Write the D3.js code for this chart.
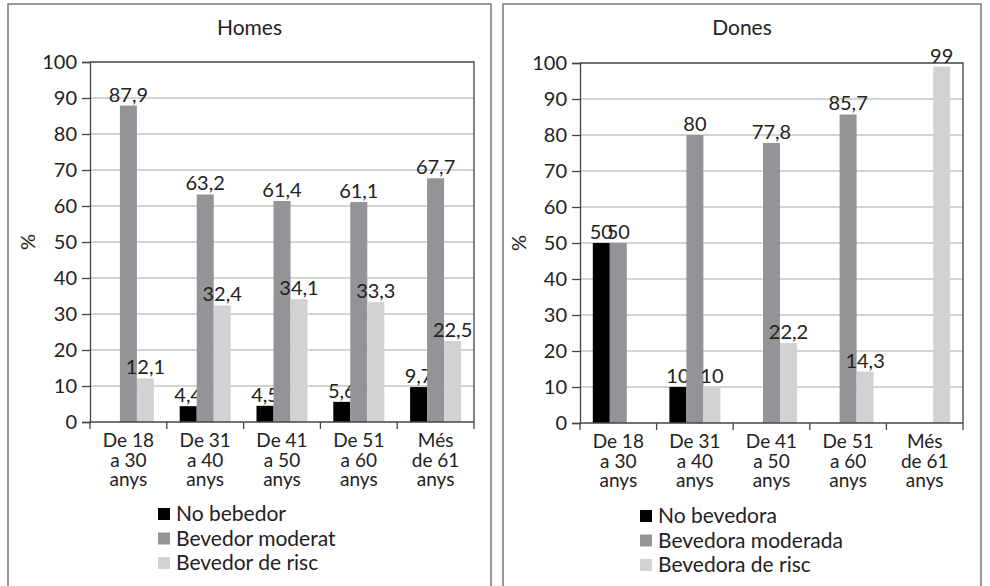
<!DOCTYPE html>
<html>
<head>
<meta charset="utf-8">
<script src="https://cdn.jsdelivr.net/npm/d3@7"></script>
<style>
  html, body { margin: 0; padding: 0; background: #fff; }
  svg { display: block; font-family: Lato, "Open Sans", sans-serif; }
</style>
</head>
<body>
<svg id="chart" width="990" height="586"></svg>
<script>
// Age groups (each label wraps over three lines)
const categories = [
  ["De 18", "a 30", "anys"],
  ["De 31", "a 40", "anys"],
  ["De 41", "a 50", "anys"],
  ["De 51", "a 60", "anys"],
  ["Més", "de 61", "anys"]
];
const yTicks = [0, 10, 20, 30, 40, 50, 60, 70, 80, 90, 100];

// Men (%)
const homesNoBebedor = [null, 4.4, 4.5, 5.6, 9.7];
const homesModerat   = [87.9, 63.2, 61.4, 61.1, 67.7];
const homesRisc      = [12.1, 32.4, 34.1, 33.3, 22.5];
const homesSeries    = ["No bebedor", "Bevedor moderat", "Bevedor de risc"];

// Women (%)
const donesNoBevedora = [50, 10, null, null, null];
const donesModerada   = [50, 80, 77.8, 85.7, null];
const donesRisc       = [null, 10, 22.2, 14.3, 99];
const donesSeries     = ["No bevedora", "Bevedora moderada", "Bevedora de risc"];

const seriesColors = ["#000000", "#939498", "#d1d2d4"];

const svg = d3.select("#chart");

function fmt(v) { return String(v).replace(".", ","); }

function drawPanel(opt) {
  const g = svg.append("g");

  // panel frame
  g.append("rect")
    .attr("x", opt.frame[0]).attr("y", opt.frame[1])
    .attr("width", opt.frame[2]).attr("height", opt.frame[3])
    .attr("fill", "none").attr("stroke", "#7a7a7a").attr("stroke-width", 1.5);

  const x0 = d3.scaleBand().domain(d3.range(categories.length))
    .range([opt.left, opt.right]).paddingInner(0).paddingOuter(0);
  const barW = 17;
  const x1 = d3.scaleBand().domain([0, 1, 2])
    .range([(x0.bandwidth() - 3 * barW) / 2, (x0.bandwidth() + 3 * barW) / 2]);
  const y = d3.scaleLinear().domain([0, 100]).range([opt.bottom, opt.top]);

  // title
  g.append("text")
    .attr("x", (opt.frame[0] + opt.frame[0] + opt.frame[2]) / 2)
    .attr("y", 35)
    .attr("text-anchor", "middle")
    .attr("font-size", 21).attr("fill", "#222")
    .text(opt.title);

  // horizontal gridlines
  g.append("g").selectAll("line")
    .data(yTicks.filter(t => t > 0 && t < 100))
    .join("line")
    .attr("x1", opt.left).attr("x2", opt.right)
    .attr("y1", d => y(d)).attr("y2", d => y(d))
    .attr("stroke", "#c4c4c4").attr("stroke-width", 1.5);

  // plot frame: top and right edges
  g.append("path")
    .attr("d", `M${opt.left},${y(100)}H${opt.right}V${y(0)}`)
    .attr("fill", "none").attr("stroke", "#444").attr("stroke-width", 1.3);

  // bars
  const series = opt.values;
  series.forEach((vals, si) => {
    const sg = g.append("g");
    const data = vals.map((v, i) => ({ v, i })).filter(d => d.v != null);
    sg.selectAll("rect").data(data).join("rect")
      .attr("x", d => x0(d.i) + x1(si))
      .attr("y", d => y(d.v))
      .attr("width", x1.bandwidth())
      .attr("height", d => y(0) - y(d.v))
      .attr("fill", seriesColors[si]);
    sg.selectAll("text").data(data).join("text")
      .attr("x", d => x0(d.i) + x1(si) + x1.bandwidth() / 2)
      .attr("y", d => y(d.v) - 4)
      .attr("text-anchor", "middle")
      .attr("font-size", 20).attr("fill", "#222")
      .text(d => fmt(d.v));
  });

  // y axis
  const yAxis = d3.axisLeft(y).tickValues(yTicks).tickSize(8).tickPadding(5);
  const ya = g.append("g").attr("transform", `translate(${opt.left},0)`).call(yAxis);
  ya.select(".domain").attr("stroke", "#444").attr("stroke-width", 1.3);
  ya.selectAll(".tick line").attr("stroke", "#444").attr("stroke-width", 1.3);
  ya.selectAll(".tick text").attr("font-size", 20).attr("fill", "#222")
    .attr("font-family", "Lato, 'Open Sans', sans-serif");

  // y axis title
  g.append("text")
    .attr("transform", `translate(${opt.ylabelX},${(y(0) + y(100)) / 2}) rotate(-90)`)
    .attr("text-anchor", "middle")
    .attr("font-size", 20).attr("fill", "#222")
    .text("%");

  // x axis with ticks on category boundaries
  const xa = g.append("g");
  xa.append("line")
    .attr("x1", opt.left).attr("x2", opt.right)
    .attr("y1", y(0)).attr("y2", y(0))
    .attr("stroke", "#444").attr("stroke-width", 1.3);
  const bounds = d3.range(categories.length + 1)
    .map(i => i < categories.length ? x0(i) : x0.range()[1]);
  xa.selectAll("line.tk").data(bounds).join("line").attr("class", "tk")
    .attr("x1", d => d).attr("x2", d => d)
    .attr("y1", y(0)).attr("y2", y(0) + 7)
    .attr("stroke", "#444").attr("stroke-width", 1.3);
  const lbl = xa.selectAll("text").data(categories).join("text")
    .attr("text-anchor", "middle")
    .attr("font-size", 19).attr("fill", "#222");
  lbl.each(function (lines, i) {
    d3.select(this).selectAll("tspan").data(lines).join("tspan")
      .attr("x", x0(i) + x0.bandwidth() / 2)
      .attr("y", (d, k) => y(0) + 25 + k * 19.5)
      .text(d => d);
  });

  // legend
  const lg = g.append("g");
  opt.names.forEach((name, si) => {
    const row = lg.append("g").attr("transform", `translate(${opt.legendX},${opt.legendY + si * 24.5})`);
    row.append("rect").attr("x", 0).attr("y", -13).attr("width", 12).attr("height", 12)
      .attr("fill", seriesColors[si]);
    row.append("text").attr("x", 18).attr("y", 0)
      .attr("font-size", 21).attr("fill", "#222").text(name);
  });
}

drawPanel({
  title: "Homes",
  frame: [8, 4, 483, 600],
  left: 90, right: 474, top: 62, bottom: 422,
  ylabelX: 35,
  values: [homesNoBebedor, homesModerat, homesRisc],
  names: homesSeries,
  legendX: 158, legendY: 521
});

drawPanel({
  title: "Dones",
  frame: [503, 4, 478, 600],
  left: 580, right: 963, top: 63, bottom: 423,
  ylabelX: 526,
  values: [donesNoBevedora, donesModerada, donesRisc],
  names: donesSeries,
  legendX: 640, legendY: 523
});
</script>
</body>
</html>
